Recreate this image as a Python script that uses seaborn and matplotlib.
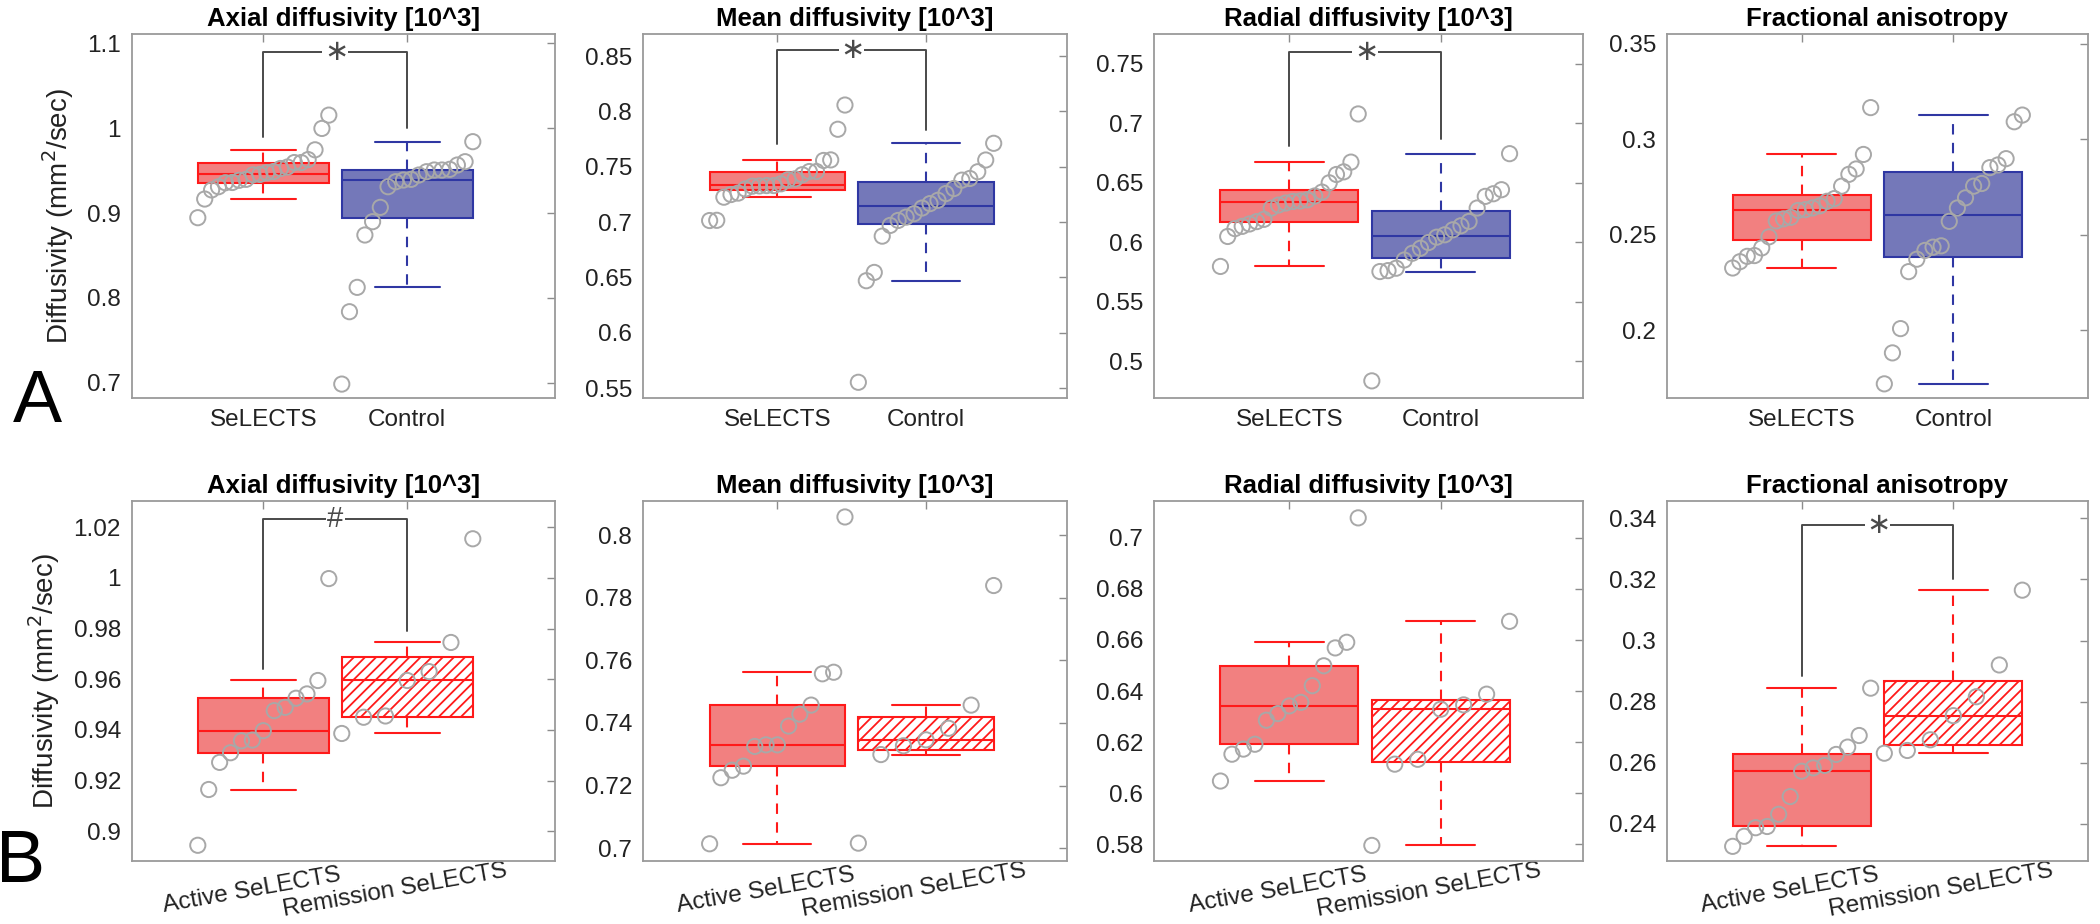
import numpy as np
import pandas as pd
import matplotlib
matplotlib.use('Agg')
import matplotlib.pyplot as plt
from matplotlib.ticker import FuncFormatter
from matplotlib.transforms import ScaledTranslation
import seaborn as sns

sns.set_theme(style='white')
plt.rcParams['font.family'] = ['Liberation Sans', 'DejaVu Sans']
plt.rcParams['hatch.linewidth'] = 1.3

# ---- values ----
# row A: all SeLECTS vs controls
axial_selects = [0.8945, 0.9165, 0.9272, 0.931, 0.9357, 0.936, 0.9386, 0.9397, 0.945, 0.9455,
                 0.9476, 0.9489, 0.9525, 0.9542, 0.9595, 0.9595, 0.963, 0.9745, 0.9997, 1.0154]
axial_control = [0.6984, 0.7837, 0.8124, 0.8741, 0.8898, 0.9067, 0.931, 0.9369, 0.9389,
                 0.9397, 0.9448, 0.9487, 0.9507, 0.9507, 0.9515, 0.9566, 0.9605, 0.9841]
mean_selects = [0.7014, 0.7016, 0.7225, 0.7249, 0.7262, 0.7299, 0.7325, 0.7327, 0.733, 0.733,
                0.7346, 0.7383, 0.739, 0.7428, 0.7457, 0.7457, 0.7557, 0.7562, 0.7839, 0.8058]
mean_control = [0.5552, 0.647, 0.6545, 0.6873, 0.697, 0.7015, 0.7045, 0.7076, 0.7127,
                0.7167, 0.7197, 0.7258, 0.7303, 0.7379, 0.7394, 0.7455, 0.7561, 0.7712]
radial_selects = [0.5796, 0.6048, 0.6114, 0.6133, 0.6153, 0.6173, 0.6192, 0.6286, 0.6312, 0.6329,
                  0.6342, 0.6346, 0.6356, 0.6388, 0.6421, 0.6499, 0.6569, 0.6591, 0.6673, 0.7078]
radial_control = [0.4834, 0.5753, 0.5761, 0.5781, 0.585, 0.5907, 0.5949, 0.5997, 0.6042,
                  0.6062, 0.6104, 0.6138, 0.6174, 0.6287, 0.6385, 0.6407, 0.6441, 0.6744]
fa_selects = [0.2326, 0.2359, 0.2387, 0.2391, 0.2431, 0.2489, 0.2572, 0.2583, 0.2591, 0.2627,
              0.2631, 0.264, 0.2651, 0.2675, 0.2689, 0.2754, 0.2816, 0.2844, 0.292, 0.3165]
fa_control = [0.172, 0.1882, 0.2009, 0.2307, 0.2372, 0.2418, 0.2435, 0.2442, 0.257,
              0.264, 0.2693, 0.2754, 0.2768, 0.2851, 0.2865, 0.2898, 0.3091, 0.3126]

# row B: active vs remission SeLECTS
axial_active = [0.8945, 0.9165, 0.9272, 0.931, 0.9357, 0.936, 0.9397, 0.9476, 0.9489, 0.9525,
                0.9542, 0.9595, 0.9997]
axial_remission = [0.9386, 0.945, 0.9455, 0.9595, 0.963, 0.9745, 1.0154]
mean_active = [0.7014, 0.7225, 0.7249, 0.7262, 0.7325, 0.733, 0.733, 0.739, 0.7428, 0.7457,
               0.7557, 0.7562, 0.8058]
mean_remission = [0.7016, 0.7299, 0.7327, 0.7346, 0.7383, 0.7457, 0.7839]
radial_active = [0.6048, 0.6153, 0.6173, 0.6192, 0.6286, 0.6312, 0.6342, 0.6356, 0.6421,
                 0.6499, 0.6569, 0.6591, 0.7078]
radial_remission = [0.5796, 0.6114, 0.6133, 0.6329, 0.6346, 0.6388, 0.6673]
fa_active = [0.2326, 0.2359, 0.2387, 0.2391, 0.2431, 0.2489, 0.2572, 0.2583, 0.2591, 0.2627,
             0.2651, 0.2689, 0.2844]
fa_remission = [0.2631, 0.264, 0.2675, 0.2754, 0.2816, 0.292, 0.3165]

titles = ['Axial diffusivity [10^3]', 'Mean diffusivity [10^3]',
          'Radial diffusivity [10^3]', 'Fractional anisotropy']
top_groups = ['SeLECTS', 'Control']
bottom_groups = ['Active SeLECTS', 'Remission SeLECTS']

top_data = [(axial_selects, axial_control), (mean_selects, mean_control),
            (radial_selects, radial_control), (fa_selects, fa_control)]
bottom_data = [(axial_active, axial_remission), (mean_active, mean_remission),
               (radial_active, radial_remission), (fa_active, fa_remission)]

top_ylims = [(0.682, 1.111), (0.541, 0.870), (0.469, 0.775), (0.1646, 0.355)]
top_yticks = [[0.7, 0.8, 0.9, 1.0, 1.1], [0.55, 0.6, 0.65, 0.7, 0.75, 0.8, 0.85],
              [0.5, 0.55, 0.6, 0.65, 0.7, 0.75], [0.2, 0.25, 0.3, 0.35]]
bottom_ylims = [(0.8883, 1.0303), (0.6959, 0.8109), (0.5735, 0.7144), (0.2278, 0.3457)]
bottom_yticks = [[0.9, 0.92, 0.94, 0.96, 0.98, 1.0, 1.02], [0.7, 0.72, 0.74, 0.76, 0.78, 0.8],
                 [0.58, 0.6, 0.62, 0.64, 0.66, 0.68, 0.7], [0.24, 0.26, 0.28, 0.3, 0.32, 0.34]]

# significance brackets: (top, left leg end, right leg end, mark) or None
top_brackets = [(1.0894, 0.99, 1.0, '*'), (0.8555, 0.7706, 0.7833, '*'),
                (0.7601, 0.6806, 0.6871, '*'), None]
bottom_brackets = [(1.0233, 0.9641, 0.9791, '#'), None, None, (0.3377, 0.2883, 0.3201, '*')]

RED = '#ff1a1a'
RED_FILL = '#f28080'
BLUE = '#2f37a3'
BLUE_FILL = '#7478b9'
PT_GRAY = '#a8a8a8'
BRACKET = '#4a4a4a'
BOX_W = 0.91

# layout in pixels of the 2100x924 figure
col_left = [132, 643, 1154, 1667]
col_right = [555, 1067, 1583, 2088]
xlims = [(-0.912, 2.026), (-0.903, 1.948), (-0.894, 1.94), (-0.888, 1.888)]
rows_px = [(34, 398), (501, 861)]

fig = plt.figure(figsize=(21, 9.24), dpi=100)


def draw_panel(ax, groups, values, fills, edges, hatched, ylim, yticks, title, bracket, xlim, rotate):
    df = pd.DataFrame({'group': np.repeat(groups, [len(v) for v in values]),
                       'value': np.concatenate(values)})
    for i, g in enumerate(groups):
        sns.boxplot(data=df[df['group'] == g], x='group', y='value', order=groups,
                    color=fills[i], linecolor=edges[i], saturation=1, width=BOX_W,
                    linewidth=1.5, showfliers=False,
                    whiskerprops={'linestyle': (0, (5, 4)), 'color': edges[i]},
                    ax=ax)
        if hatched and i == 1:
            box = ax.patches[-1]
            box.set_facecolor('white')
            box.set_hatch('///')
            box.set_edgecolor(edges[i])
    for i, v in enumerate(values):
        v = np.sort(v)
        xs = i + np.linspace(-BOX_W / 2, BOX_W / 2, len(v))
        sns.scatterplot(x=xs, y=v, ax=ax, s=120, facecolor='none', edgecolor=PT_GRAY,
                        linewidth=1.4, zorder=4)
    if bracket is not None:
        top, l_end, r_end, mark = bracket
        ax.plot([0, 0, 1, 1], [l_end, top, top, r_end], color=BRACKET, lw=1.4, zorder=3)
        label = r'$\ast$' if mark == '*' else mark
        ax.text(0.5, top, label, ha='center', va='center', fontsize=21, color=BRACKET,
                bbox=dict(facecolor='white', edgecolor='none', pad=1.0), zorder=5)

    ax.set_xlim(*xlim)
    ax.set_ylim(*ylim)
    ax.set_yticks(yticks)
    ax.yaxis.set_major_formatter(FuncFormatter(lambda y, _: '%g' % round(y, 3)))
    ax.set_xticks([0, 1])
    ax.tick_params(direction='in', length=6, width=1, color='#8c8c8c', labelcolor='#222222',
                   labelsize=17.5, top=True, right=True, pad=8)
    if rotate:
        ax.set_xticklabels(groups, rotation=10, ha='center', va='center',
                           rotation_mode='anchor')
        ax.tick_params(axis='x', pad=21)
        shift = ScaledTranslation(-0.12, 0, fig.dpi_scale_trans)
        for lab in ax.get_xticklabels():
            lab.set_transform(lab.get_transform() + shift)
    else:
        ax.set_xticklabels(groups)
    ax.set_xlabel('')
    ax.set_ylabel('')
    ax.set_title(title, fontsize=18.5, fontweight='bold', color='black', pad=6)
    for sp in ax.spines.values():
        sp.set_color('#9a9a9a')
        sp.set_linewidth(1.3)


for r, (groups, data, ylims, yticks, brackets) in enumerate([
        (top_groups, top_data, top_ylims, top_yticks, top_brackets),
        (bottom_groups, bottom_data, bottom_ylims, bottom_yticks, bottom_brackets)]):
    y_top, y_bot = rows_px[r]
    for c in range(4):
        ax = fig.add_axes([col_left[c] / 2100, 1 - y_bot / 924,
                           (col_right[c] - col_left[c]) / 2100, (y_bot - y_top) / 924])
        if r == 0:
            fills, edges, hatched = [RED_FILL, BLUE_FILL], [RED, BLUE], False
        else:
            fills, edges, hatched = [RED_FILL, RED_FILL], [RED, RED], True
        draw_panel(ax, groups, data[c], fills, edges, hatched, ylims[c], yticks[c],
                   titles[c], brackets[c], xlims[c], rotate=(r == 1))
        if c == 0:
            ax.set_ylabel('Diffusivity (mm$^2$/sec)', fontsize=20, color='#222222', labelpad=8)

fig.text(0.006, 1 - 422 / 924, 'A', fontsize=53, color='black', va='baseline')
fig.text(-0.002, 1 - 882 / 924, 'B', fontsize=53, color='black', va='baseline')

fig.savefig('out.png', dpi=100)
